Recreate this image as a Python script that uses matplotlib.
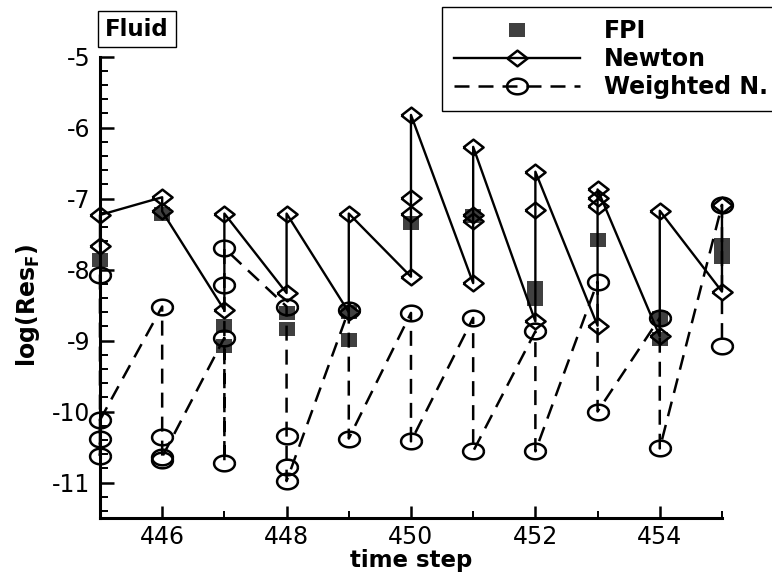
import matplotlib
matplotlib.use('Agg')
import matplotlib.pyplot as plt
from matplotlib.ticker import MultipleLocator
import numpy as np

plt.rcParams['font.family'] = 'DejaVu Sans'
plt.rcParams['axes.unicode_minus'] = False

# time steps and residuals per step (in iteration order)
steps = list(range(445, 456))

fpi = [[-7.86], [-7.22], [-8.80, -9.08], [-8.61, -8.83], [-8.60, -8.99],
       [-7.35], [-7.25], [-8.26, -8.41], [-7.58], [-8.68, -8.98],
       [-7.66, -7.82]]

newton = [[-7.67, -7.23], [-6.98, -7.18], [-8.57, -7.21], [-8.33, -7.21],
          [-8.60, -7.21], [-8.10, -7.21, -6.99, -5.82],
          [-8.19, -7.32, -7.23, -6.27], [-8.73, -7.16, -6.62],
          [-8.79, -7.10, -6.99, -6.87], [-8.94, -7.17], [-8.31, -7.09]]

weighted = [[-8.07, -10.62, -10.39, -10.12], [-8.52, -10.36, -10.68, -10.64],
            [-8.96, -10.72, -8.21, -7.70], [-8.52, -10.35, -10.78, -10.98],
            [-8.57, -10.38], [-8.61, -10.42], [-8.68, -10.56],
            [-8.87, -10.56], [-8.17, -10.00], [-8.68, -10.52],
            [-7.09, -9.08]]

labels = ['FPI', 'Newton', 'Weighted N.']
xticks = [446, 448, 450, 452, 454]


def flatten(groups):
    xs, ys = [], []
    for s, g in zip(steps, groups):
        xs += [s] * len(g)
        ys += g
    return xs, ys


# marker shapes (a bit wider than tall, like the original)
diamond = [(-1, 0), (0, 0.78), (1, 0), (0, -0.78), (-1, 0)]
t = np.linspace(0, 2 * np.pi, 60)
ellipse = list(zip(np.cos(t), 0.75 * np.sin(t)))
square = [(-1, -0.87), (1, -0.87), (1, 0.87), (-1, 0.87), (-1, -0.87)]

fig = plt.figure(figsize=(7.72, 5.73), dpi=100)
ax = fig.add_axes([0.1295, 0.096, 0.8057, 0.805])

x, y = flatten(fpi)
ax.plot(x, y, linestyle='none', marker=square, markersize=11,
        color='#404040', markeredgewidth=0, clip_on=False, label=labels[0])

x, y = flatten(newton)
ax.plot(x, y, color='black', lw=1.7, marker=diamond, markersize=14.5,
        markerfacecolor='none', markeredgecolor='black', markeredgewidth=1.8,
        clip_on=False, label=labels[1])

x, y = flatten(weighted)
ax.plot(x, y, color='black', lw=1.8, linestyle=(0, (6, 3.6)), marker=ellipse,
        markersize=15, markerfacecolor='none', markeredgecolor='black',
        markeredgewidth=1.8, clip_on=False, label=labels[2])

ax.set_xlim(445, 455)
ax.set_ylim(-11.5, -5)
ax.set_xticks(xticks)
ax.xaxis.set_minor_locator(MultipleLocator(1))
ax.yaxis.set_major_locator(MultipleLocator(1))
ax.yaxis.set_minor_locator(MultipleLocator(0.2))

for side in ['top', 'right']:
    ax.spines[side].set_visible(False)
for side in ['left', 'bottom']:
    ax.spines[side].set_linewidth(2.2)

ax.tick_params(axis='y', which='major', direction='in', length=10, width=1.8,
               labelsize=17, pad=7)
ax.tick_params(axis='y', which='minor', direction='in', length=6, width=1.4)
ax.tick_params(axis='x', which='major', direction='in', length=8.5, width=1.8,
               labelsize=17, pad=5)
ax.tick_params(axis='x', which='minor', direction='in', length=5, width=1.4)

ax.set_xlabel('time step', fontsize=16.5, fontweight='bold', labelpad=0)
ax.set_ylabel('log(Res$_\\mathbf{F}$)', fontsize=17, fontweight='bold')
ax.yaxis.set_label_coords(-0.093, 0.46)

leg = ax.legend(loc='upper left', bbox_to_anchor=(442 / 772, 1 - 7 / 573),
                bbox_transform=fig.transFigure, frameon=True, fancybox=False,
                edgecolor='black', framealpha=1,
                prop={'weight': 'bold', 'size': 17}, handlelength=5.36,
                handletextpad=1.0, labelspacing=0.18, borderpad=0.5,
                borderaxespad=0)
leg.get_frame().set_linewidth(1)

fig.text(137 / 772, 1 - 29 / 573, 'Fluid', fontsize=16.5, fontweight='bold',
         ha='center', va='center',
         bbox=dict(boxstyle='square,pad=0.3', facecolor='white',
                   edgecolor='black', lw=1))

fig.savefig('out.png', dpi=100)
